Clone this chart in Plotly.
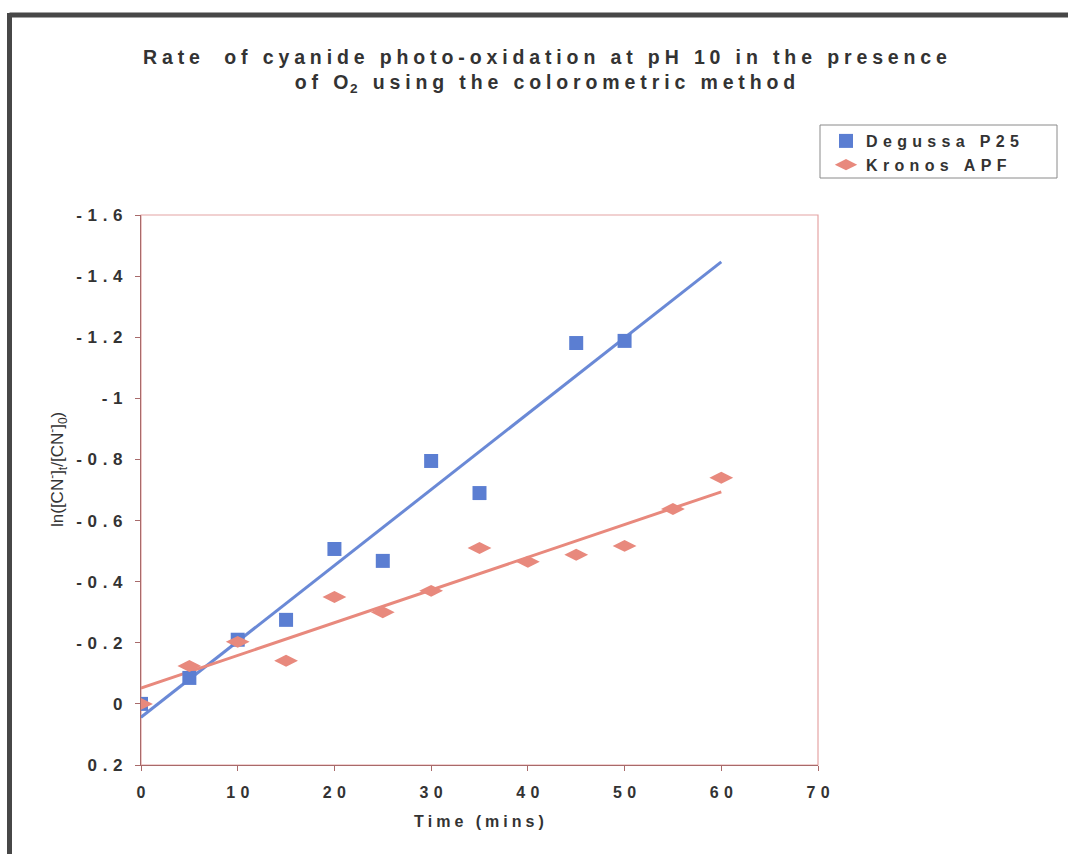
import numpy as np
import plotly.graph_objects as go

# Sampling times (minutes)
degussa_time = [0, 5, 10, 15, 20, 25, 30, 35, 45, 50]
kronos_time = [0, 5, 10, 15, 20, 25, 30, 35, 40, 45, 50, 55, 60]

# ln([CN-]t/[CN-]0) values
degussa_ln = [0.0, -0.085, -0.21, -0.275, -0.507, -0.468, -0.795, -0.69, -1.181, -1.188]
kronos_ln = [0.0, -0.124, -0.203, -0.141, -0.35, -0.30, -0.37, -0.51, -0.465, -0.488, -0.517, -0.638, -0.74]

series_names = ["Degussa P25", "Kronos APF"]
y_ticks = [-1.6, -1.4, -1.2, -1.0, -0.8, -0.6, -0.4, -0.2, 0.0, 0.2]
y_tick_labels = ["-1.6", "-1.4", "-1.2", "-1", "-0.8", "-0.6", "-0.4", "-0.2", "0", "0.2"]
x_ticks = [0, 10, 20, 30, 40, 50, 60, 70]
x_tick_labels = ["0", "10", "20", "30", "40", "50", "60", "70"]

BLUE = "#5b7ed2"
BLUE_LINE = "#6a89d6"
SALMON = "#e8897d"
TEXT = "#333333"
FONT = "Liberation Sans, Arial, sans-serif"

W, H = 1068, 854
PL, PR, PT, PB = 141, 818, 215, 765  # plot area in pixels

EN = "\u2002"
THREE_PER_EM = "\u2004"
FOUR_PER_EM = "\u2005"
HAIR = "\u200a"


def px_x(p):
    return (p - PL) / (PR - PL)


def px_y(p):
    return (PB - p) / (PB - PT)


def spaced(s, gap):
    return gap.join(s)


fig = go.Figure()

# least-squares trend lines over 0-60 min
fit_x = np.array([0, 60])
for t, v, color in [(degussa_time, degussa_ln, BLUE_LINE), (kronos_time, kronos_ln, SALMON)]:
    k, b = np.polyfit(t, v, 1)
    fig.add_trace(go.Scatter(x=fit_x, y=k * fit_x + b, mode="lines",
                             line=dict(color=color, width=3), showlegend=False,
                             hoverinfo="skip"))

legend_pad = EN * 3
fig.add_trace(go.Scatter(x=degussa_time, y=degussa_ln, mode="markers",
                         name="<b>" + spaced(series_names[0], THREE_PER_EM) + "</b>" + legend_pad,
                         marker=dict(symbol="square", size=14, color=BLUE)))
fig.add_trace(go.Scatter(x=kronos_time, y=kronos_ln, mode="markers",
                         name="<b>" + spaced(series_names[1], THREE_PER_EM) + "</b>" + legend_pad,
                         marker=dict(symbol="diamond-wide", size=17, color=SALMON)))

axis_common = dict(showgrid=False, zeroline=False, showline=True,
                   linecolor="#a86a6a", linewidth=1.2, ticks="outside",
                   ticklen=5, tickcolor="#a86a6a")

fig.update_xaxes(range=[0, 70], tickvals=x_ticks,
                 ticktext=["<b>" + spaced(s, THREE_PER_EM) + "</b>" for s in x_tick_labels],
                 tickfont=dict(family=FONT, size=16, color=TEXT),
                 ticklabelstandoff=8, **axis_common)
fig.update_yaxes(range=[0.2, -1.6], tickvals=y_ticks,
                 ticktext=["<b>" + spaced(s, THREE_PER_EM) + "</b>" for s in y_tick_labels],
                 tickfont=dict(family=FONT, size=17, color=TEXT),
                 ticklabelstandoff=9, **axis_common)

title_l1 = (spaced("Rate", FOUR_PER_EM) + EN + EN + FOUR_PER_EM
            + spaced("of cyanide photo-oxidation at pH 10 in the presence", FOUR_PER_EM))
title_l2 = (spaced("of O", FOUR_PER_EM) + HAIR + "<sub>2</sub>" + FOUR_PER_EM
            + spaced(" using the colorometric method", FOUR_PER_EM))

fig.add_annotation(x=px_x(545), y=px_y(71), xref="paper", yref="paper",
                   text="<b>" + title_l1 + "<br>" + title_l2 + "</b>",
                   showarrow=False, xanchor="center", yanchor="middle",
                   font=dict(family=FONT, size=19.5, color=TEXT))

fig.add_annotation(x=px_x(479), y=px_y(822), xref="paper", yref="paper",
                   text="<b>" + spaced("Time (mins)", FOUR_PER_EM) + "</b>",
                   showarrow=False, xanchor="center", yanchor="middle",
                   font=dict(family=FONT, size=16, color=TEXT))

fig.add_annotation(x=px_x(57), y=px_y(470), xref="paper", yref="paper",
                   text="ln([CN<sup>-</sup>]<sub>t</sub>/[CN<sup>-</sup>]<sub>0</sub>)",
                   textangle=-90, showarrow=False, xanchor="center", yanchor="middle",
                   font=dict(family=FONT, size=17, color=TEXT))

# light border around the plotting area (top and right edges)
fig.add_shape(type="rect", xref="paper", yref="paper", x0=0, y0=0, x1=1, y1=1,
              line=dict(color="#e4a4a4", width=1.2), layer="below")
# legend frame
fig.add_shape(type="rect", xref="paper", yref="paper",
              x0=px_x(820), y0=px_y(178), x1=px_x(1057), y1=px_y(125),
              line=dict(color="#8a8a8a", width=1), fillcolor="white", layer="below")
# dark outer frame (top and left)
fig.add_shape(type="line", xref="paper", yref="paper",
              x0=px_x(9.5), y0=px_y(15), x1=px_x(W + 5), y1=px_y(15),
              line=dict(color="#474747", width=5))
fig.add_shape(type="line", xref="paper", yref="paper",
              x0=px_x(9.5), y0=px_y(13), x1=px_x(9.5), y1=px_y(H + 5),
              line=dict(color="#474747", width=5))

fig.update_layout(
    width=W, height=H,
    margin=dict(l=PL, r=W - PR, t=PT, b=H - PB),
    paper_bgcolor="white", plot_bgcolor="white",
    showlegend=True,
    legend=dict(x=px_x(826), y=px_y(124), xanchor="left", yanchor="top",
                borderwidth=0, bgcolor="rgba(0,0,0,0)",
                font=dict(family=FONT, size=16, color=TEXT),
                itemwidth=30, tracegroupgap=0),
)

fig.write_html("out.html")
